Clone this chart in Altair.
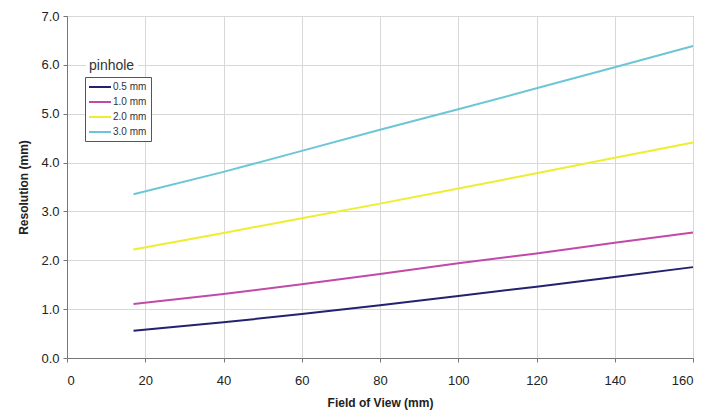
import altair as alt
import pandas as pd

fov = [17, 40, 60, 80, 100, 120, 140, 160]
res_05 = [0.56, 0.73, 0.90, 1.08, 1.27, 1.46, 1.66, 1.86]
res_10 = [1.105, 1.31, 1.51, 1.72, 1.94, 2.14, 2.36, 2.57]
res_20 = [2.22, 2.56, 2.86, 3.16, 3.47, 3.78, 4.10, 4.41]
res_30 = [3.35, 3.81, 4.24, 4.67, 5.09, 5.52, 5.95, 6.385]
series = ["0.5 mm", "1.0 mm", "2.0 mm", "3.0 mm"]
colors = ["#22226e", "#c04aa8", "#eeee30", "#6cc6d6"]

rows = []
for name, vals in zip(series, [res_05, res_10, res_20, res_30]):
    for x, y in zip(fov, vals):
        rows.append({"fov": x, "res": y, "pinhole": name})
df = pd.DataFrame(rows)

W, H = 626, 342
font = "Liberation Sans"

lines = alt.Chart(df).mark_line(strokeWidth=2).encode(
    x=alt.X("fov:Q", title="Field of View (mm)",
            scale=alt.Scale(domain=[0, 160], nice=False),
            axis=alt.Axis(values=list(range(0, 161, 20)), labelFontSize=13,
                          titleFontSize=12, titleFontWeight="bold",
                          labelColor="#222", titleColor="#222",
                          domainColor="#777", tickColor="#777", tickSize=4,
                          gridColor="#d8d8d8", labelPadding=12, titlePadding=10)),
    y=alt.Y("res:Q", title="Resolution (mm)",
            scale=alt.Scale(domain=[0, 7], nice=False),
            axis=alt.Axis(values=[0, 1, 2, 3, 4, 5, 6, 7], format=".1f",
                          labelFontSize=13, titleFontSize=12,
                          titleFontWeight="bold", labelColor="#222",
                          titleColor="#222", domainColor="#777",
                          tickColor="#777", tickSize=4, gridColor="#d8d8d8",
                          labelPadding=4, titlePadding=10)),
    color=alt.Color("pinhole:N", scale=alt.Scale(domain=series, range=colors),
                    legend=alt.Legend(orient="none", legendX=18, legendY=61,
                                      title=None, symbolType="M-1.2,0H3.2",
                                      symbolStrokeWidth=2, symbolSize=100,
                                      labelFontSize=10, labelColor="#333",
                                      labelOffset=12,
                                      rowPadding=4, padding=4,
                                      strokeColor="#555", fillColor="white",
                                      labelFont=font)),
)

bg = alt.Chart(pd.DataFrame({"a": [0]})).mark_rect(color="white").encode(
    x=alt.value(19), x2=alt.value(71), y=alt.value(41), y2=alt.value(59))
title = alt.Chart(pd.DataFrame({"t": ["pinhole"]})).mark_text(
    align="left", baseline="middle", fontSize=14, font=font, color="#333"
).encode(x=alt.value(22), y=alt.value(50), text="t:N")

chart = alt.layer(lines, bg, title).properties(
    width=W, height=H,
    autosize=alt.AutoSizeParams(type="none"),
    padding={"left": 59, "top": 8, "right": 19, "bottom": 54},
).configure(font=font).configure_view(stroke="#777")

chart.save("out.html", embed_options={"renderer": "svg", "actions": False})
